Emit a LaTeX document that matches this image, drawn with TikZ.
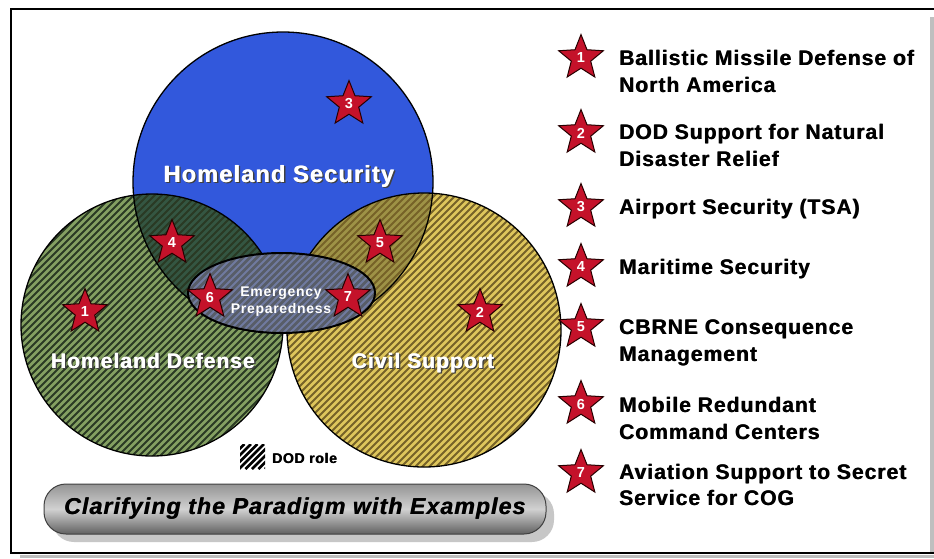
\documentclass[tikz,border=0pt]{standalone}
\usepackage{fontspec}
\setmainfont{Liberation Sans}
\usetikzlibrary{shapes.geometric}

\definecolor{hsblue}{RGB}{50,88,220}
\definecolor{hdgreen}{RGB}{132,160,98}
\definecolor{hdstripe}{RGB}{42,58,36}
\definecolor{csyellow}{RGB}{222,198,92}
\definecolor{csstripe}{RGB}{118,98,40}
\definecolor{bgoverlap}{RGB}{52,86,66}
\definecolor{byoverlap}{RGB}{158,146,70}
\definecolor{epgray}{RGB}{88,93,104}
\definecolor{epstripe}{RGB}{112,122,160}
\definecolor{starred}{RGB}{196,18,42}

% bold sans at a given size, slightly tracked
\newcommand\bsans[1]{\fontsize{#1}{#1}\selectfont\bfseries\addfontfeature{LetterSpace=5}}
% extra-heavy text: the same line set twice, a hair apart
\newcommand\heavy[1]{\rlap{#1}\kern0.6pt#1}
% white heavy text over its own dark drop shadow
\newcommand\shadowed[1]{\rlap{\kern1.3pt\raisebox{-1.3pt}{\color{black!75}\heavy{#1}}}{\color{white}\heavy{#1}}}

% diagonal hatching over the current clip
\newcommand\hatchlines[2]{%
  \foreach \s in {-560,-553,...,940}
    \draw[#1, line width=#2] (\s,560) -- ++(560,-560);}

\begin{document}
\begin{tikzpicture}[x=1pt,y=-1pt,
  every node/.style={inner sep=0pt, outer sep=0pt},
  outline/.style={draw=black, line width=1.3pt},
  circlabel/.style={anchor=base, font=\bsans{#1}},
  starmark/.style={star, star points=5, star point ratio=2.3,
    minimum size=47pt, inner sep=0pt, fill=starred,
    draw=black!85!red, line width=1pt, text=white,
    font=\bsans{14.5}},
  legtext/.style={anchor=base west, font=\bsans{21}},
  banner/.style={rounded corners=22pt, minimum width=502pt,
    minimum height=50pt, top color=black!42, bottom color=black!62,
    middle color=black!18, draw=black!75, line width=1pt,
    font=\fontsize{23}{23}\selectfont\bfseries\itshape\addfontfeature{LetterSpace=5}}]

\useasboundingbox (0,0) rectangle (934,558);
\fill[white] (0,0) rectangle (934,558);

% frame with page shadow
\fill[black!25] (930,17) rectangle (934,553);
\fill[black!25] (20,555) rectangle (934,558);
\draw[line width=2.2pt] (934,9) -- (11,9) -- (11,553) -- (934,553);

% the three circles
\coordinate (hsC) at (283,182);
\coordinate (hdC) at (152,325);
\coordinate (csC) at (424,330);
\def\rHS{150pt}
\def\rHD{131pt}
\def\rCS{137pt}

\fill[hsblue] (hsC) circle[radius=\rHS];
\fill[hdgreen] (hdC) circle[radius=\rHD];
\fill[csyellow] (csC) circle[radius=\rCS];
\begin{scope}
  \clip (hsC) circle[radius=\rHS];
  \fill[bgoverlap] (hdC) circle[radius=\rHD];
  \fill[byoverlap] (csC) circle[radius=\rCS];
\end{scope}
\begin{scope}
  \clip (hdC) circle[radius=\rHD];
  \hatchlines{hdstripe}{2pt}
\end{scope}
\begin{scope}
  \clip (csC) circle[radius=\rCS];
  \hatchlines{csstripe}{2pt}
\end{scope}
\draw[outline] (hdC) circle[radius=\rHD];
\draw[outline] (csC) circle[radius=\rCS];
\draw[outline] (hsC) circle[radius=\rHS];

% emergency preparedness ellipse
\coordinate (epC) at (281.5,293);
\fill[epgray] (epC) ellipse[x radius=93.5pt, y radius=40pt];
\begin{scope}
  \clip (epC) ellipse[x radius=93.5pt, y radius=40pt];
  \hatchlines{epstripe}{2pt}
\end{scope}
\draw[line width=2pt] (epC) ellipse[x radius=93.5pt, y radius=40pt];

% circle labels
\node[circlabel=23.5] (hsLabel) at (279,182) {\shadowed{Homeland Security}};
\node[circlabel=21] (hdLabel) at (153,368) {\shadowed{Homeland Defense}};
\node[circlabel=21] (csLabel) at (423,368) {\shadowed{Civil Support}};
\node[anchor=base, font=\bsans{14}, text=white] (epLine1) at (281,296) {Emergency};
\node[anchor=base, font=\bsans{14}, text=white] (epLine2) at (281,313) {Preparedness};

% example markers on the diagram
\node[starmark] (m1) at (85,312) {1};
\node[starmark] (m2) at (480,312) {2};
\node[starmark] (m3) at (349,104) {3};
\node[starmark] (m4) at (172,243) {4};
\node[starmark] (m5) at (380,243) {5};
\node[starmark] (m6) at (210,297) {6};
\node[starmark] (m7) at (348,297) {7};

% DOD role key
\begin{scope}
  \clip (240,444) rectangle (265,469);
  \foreach \s in {200,206.5,...,272}
    \draw[line width=2.6pt] (\s,469) -- ++(25,-25);
\end{scope}
\node[anchor=base west, font=\bsans{14}] (dodKey) at (272,463) {\heavy{DOD role}};

% legend of examples
\node[starmark] (k1) at (581,58) {1};
\node[legtext] (k1a) at (619,65) {\heavy{Ballistic Missile Defense of}};
\node[legtext] (k1b) at (619,92) {\heavy{North America}};
\node[starmark] (k2) at (581,133) {2};
\node[legtext] (k2a) at (619,139) {\heavy{DOD Support for Natural}};
\node[legtext] (k2b) at (619,166) {\heavy{Disaster Relief}};
\node[starmark] (k3) at (581,207) {3};
\node[legtext] (k3a) at (619,214) {\heavy{Airport Security (TSA)}};
\node[starmark] (k4) at (581,267) {4};
\node[legtext] (k4a) at (619,274) {\heavy{Maritime Security}};
\node[starmark] (k5) at (581,327) {5};
\node[legtext] (k5a) at (619,334) {\heavy{CBRNE Consequence}};
\node[legtext] (k5b) at (619,361) {\heavy{Management}};
\node[starmark] (k6) at (581,404) {6};
\node[legtext] (k6a) at (619,412) {\heavy{Mobile Redundant}};
\node[legtext] (k6b) at (619,439) {\heavy{Command Centers}};
\node[starmark] (k7) at (581,473) {7};
\node[legtext] (k7a) at (619,479) {\heavy{Aviation Support to Secret}};
\node[legtext] (k7b) at (619,505) {\heavy{Service for COG}};

% title banner
\fill[black!22, rounded corners=22pt] (52,492) rectangle (554,542);
\node[banner] (title) at (295,509) {\heavy{Clarifying the Paradigm with Examples}};

\end{tikzpicture}
\end{document}
